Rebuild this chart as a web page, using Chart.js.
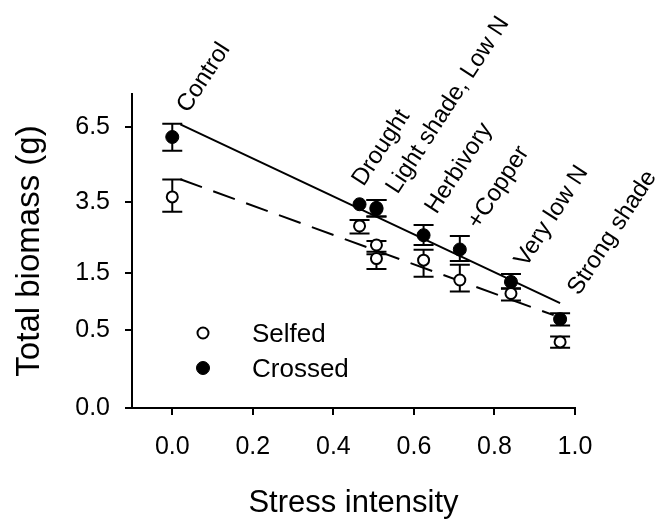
<!DOCTYPE html>
<html lang="en">
<head>
  <meta charset="UTF-8" />
  <title>Total biomass vs stress intensity</title>
  <script src="https://cdn.jsdelivr.net/npm/chart.js"></script>
  <style>
    body {
      margin: 0;
      background: #fff;
    }
    #wrap {
      width: 656px;
      height: 524px;
    }
  </style>
</head>
<body>
  <div id="wrap"><canvas id="myChart"></canvas></div>

  <script>
    // treatment means and error bar limits, total biomass in grams
    const treatments = ['Control', 'Drought', 'Light shade', 'Low N', 'Herbivory', '+Copper', 'Very low N', 'Strong shade'];
    const stress = [0, 0.465, 0.507, 0.507, 0.624, 0.714, 0.841, 0.963];
    const selfedMean = [3.67, 2.73, 2.19, 1.84, 1.80, 1.35, 1.08, 0.36];
    const selfedLow = [3.17, 2.51, 2.01, 1.59, 1.42, 1.12, 0.95, 0.30];
    const selfedHigh = [4.30, 2.91, 2.30, 1.95, 2.06, 1.69, 1.17, 0.42];
    const crossedMean = [6.05, 3.42, 3.30, 3.26, 2.46, 2.07, 1.31, 0.65];
    const crossedLow = [5.45, null, 3.02, 3.02, 2.19, 1.78, 1.18, 0.56];
    const crossedHigh = [6.66, null, 3.56, 3.56, 2.76, 2.44, 1.48, 0.74];

    // fitted lines (stress, grams) at both ends
    const selfedFitX = [0.02, 0.947];
    const selfedFitY = [4.31, 0.71];
    const crossedFitX = [0.02, 0.963];
    const crossedFitY = [6.63, 0.905];

    // rotated labels above the points
    const groupLabels = ['Control', 'Drought', 'Light shade, Low N', 'Herbivory', '+Copper', 'Very low N', 'Strong shade'];
    const groupIndex = [0, 1, 2, 4, 5, 6, 7];

    const xTicks = [0, 0.2, 0.4, 0.6, 0.8, 1.0];
    const yTicks = [0, 0.5, 1.5, 3.5, 6.5];

    // y axis is square-root scaled
    const tr = v => Math.sqrt(v);
    const pts = (xs, ys) => xs.map((x, i) => ({ x: x, y: tr(ys[i]) }));

    const FONT = '"Liberation Sans", Arial, Helvetica, sans-serif';
    Chart.defaults.font.family = FONT;
    Chart.defaults.color = '#000';

    const errorBars = {
      id: 'errorBars',
      beforeDatasetsDraw(chart) {
        const ctx = chart.ctx;
        const xs = chart.scales.x, ys = chart.scales.y;
        ctx.save();
        ctx.strokeStyle = '#000';
        ctx.lineWidth = 2;
        const draw = (lo, hi) => {
          stress.forEach((s, i) => {
            if (lo[i] == null || hi[i] == null) return;
            const px = xs.getPixelForValue(s);
            const y1 = ys.getPixelForValue(tr(lo[i]));
            const y2 = ys.getPixelForValue(tr(hi[i]));
            ctx.beginPath();
            ctx.moveTo(px, y1); ctx.lineTo(px, y2);
            ctx.moveTo(px - 10, y1); ctx.lineTo(px + 10, y1);
            ctx.moveTo(px - 10, y2); ctx.lineTo(px + 10, y2);
            ctx.stroke();
          });
        };
        draw(selfedLow, selfedHigh);
        draw(crossedLow, crossedHigh);
        ctx.restore();
      }
    };

    // pixel nudges from the top of each crossed error bar to the label start
    const labelNudge = [[16, -10], [4, -17], [21, -5], [13, -10], [19, -6], [15, -6], [19, -17]];

    const annotations = {
      id: 'annotations',
      afterDraw(chart) {
        const ctx = chart.ctx;
        const xs = chart.scales.x, ys = chart.scales.y;
        const area = chart.chartArea;
        ctx.save();
        ctx.fillStyle = '#000';
        ctx.font = '24px ' + FONT;
        ctx.textAlign = 'left';
        ctx.textBaseline = 'alphabetic';
        groupLabels.forEach((txt, k) => {
          const i = groupIndex[k];
          const top = crossedHigh[i] != null ? crossedHigh[i] : crossedMean[i];
          const px = xs.getPixelForValue(stress[i]) + labelNudge[k][0];
          const py = ys.getPixelForValue(tr(top)) + labelNudge[k][1];
          ctx.save();
          ctx.translate(px, py);
          ctx.rotate(-57 * Math.PI / 180);
          ctx.fillText(txt, 0, 0);
          ctx.restore();
        });

        // legend
        const lx = area.left + 71;
        const rows = [area.top + 239, area.top + 274];
        const sets = [chart.data.datasets[0], chart.data.datasets[1]];
        ctx.textBaseline = 'middle';
        ctx.font = '26px ' + FONT;
        sets.forEach((ds, k) => {
          ctx.beginPath();
          ctx.arc(lx, rows[k], ds.pointRadius, 0, Math.PI * 2);
          ctx.fillStyle = ds.pointBackgroundColor;
          ctx.fill();
          ctx.lineWidth = ds.pointBorderWidth;
          ctx.strokeStyle = ds.pointBorderColor;
          ctx.stroke();
          ctx.fillStyle = '#000';
          ctx.fillText(ds.label, lx + 49, rows[k] + 2);
        });
        ctx.restore();
      }
    };

    new Chart(document.getElementById('myChart'), {
      type: 'scatter',
      data: {
        datasets: [
          {
            label: 'Selfed',
            data: pts(stress, selfedMean),
            pointRadius: 5.5,
            pointBackgroundColor: '#fff',
            pointBorderColor: '#000',
            pointBorderWidth: 2,
            order: 1
          },
          {
            label: 'Crossed',
            data: pts(stress, crossedMean),
            pointRadius: 6.5,
            pointBackgroundColor: '#000',
            pointBorderColor: '#000',
            pointBorderWidth: 1,
            order: 0
          },
          {
            type: 'line',
            label: 'Selfed fit',
            data: pts(selfedFitX, selfedFitY),
            borderColor: '#000',
            borderWidth: 2,
            borderDash: [23, 12],
            pointRadius: 0,
            order: 3
          },
          {
            type: 'line',
            label: 'Crossed fit',
            data: pts(crossedFitX, crossedFitY),
            borderColor: '#000',
            borderWidth: 2,
            pointRadius: 0,
            order: 2
          }
        ]
      },
      options: {
        responsive: true,
        maintainAspectRatio: false,
        animation: false,
        layout: { padding: { top: 94, right: 81, left: 0, bottom: 0 } },
        plugins: {
          legend: { display: false },
          tooltip: { enabled: false }
        },
        scales: {
          x: {
            type: 'linear',
            min: -0.1,
            max: 1.0,
            afterBuildTicks: axis => { axis.ticks = xTicks.map(v => ({ value: v })); },
            afterFit: scale => { scale.height = 116; },
            grid: { drawOnChartArea: false, tickLength: 7, color: '#000', lineWidth: 2 },
            border: { color: '#000', width: 2 },
            ticks: {
              padding: 17,
              font: { size: 25 },
              callback: v => v.toFixed(1)
            },
            title: {
              display: true,
              text: 'Stress intensity',
              font: { size: 31 },
              padding: { top: 0, bottom: 2 }
            }
          },
          y: {
            type: 'linear',
            min: 0,
            max: 2.85,
            afterBuildTicks: axis => { axis.ticks = yTicks.map(v => ({ value: tr(v) })); },
            afterFit: scale => { scale.width = 132; },
            grid: { drawOnChartArea: false, tickLength: 7, color: '#000', lineWidth: 2 },
            border: { color: '#000', width: 2 },
            ticks: {
              padding: 15,
              font: { size: 25 },
              callback: (v, i) => yTicks[i].toFixed(1)
            },
            title: {
              display: true,
              text: 'Total biomass (g)',
              font: { size: 33 },
              padding: { top: 10, bottom: 0 }
            }
          }
        }
      },
      plugins: [errorBars, annotations]
    });
  </script>
</body>
</html>
